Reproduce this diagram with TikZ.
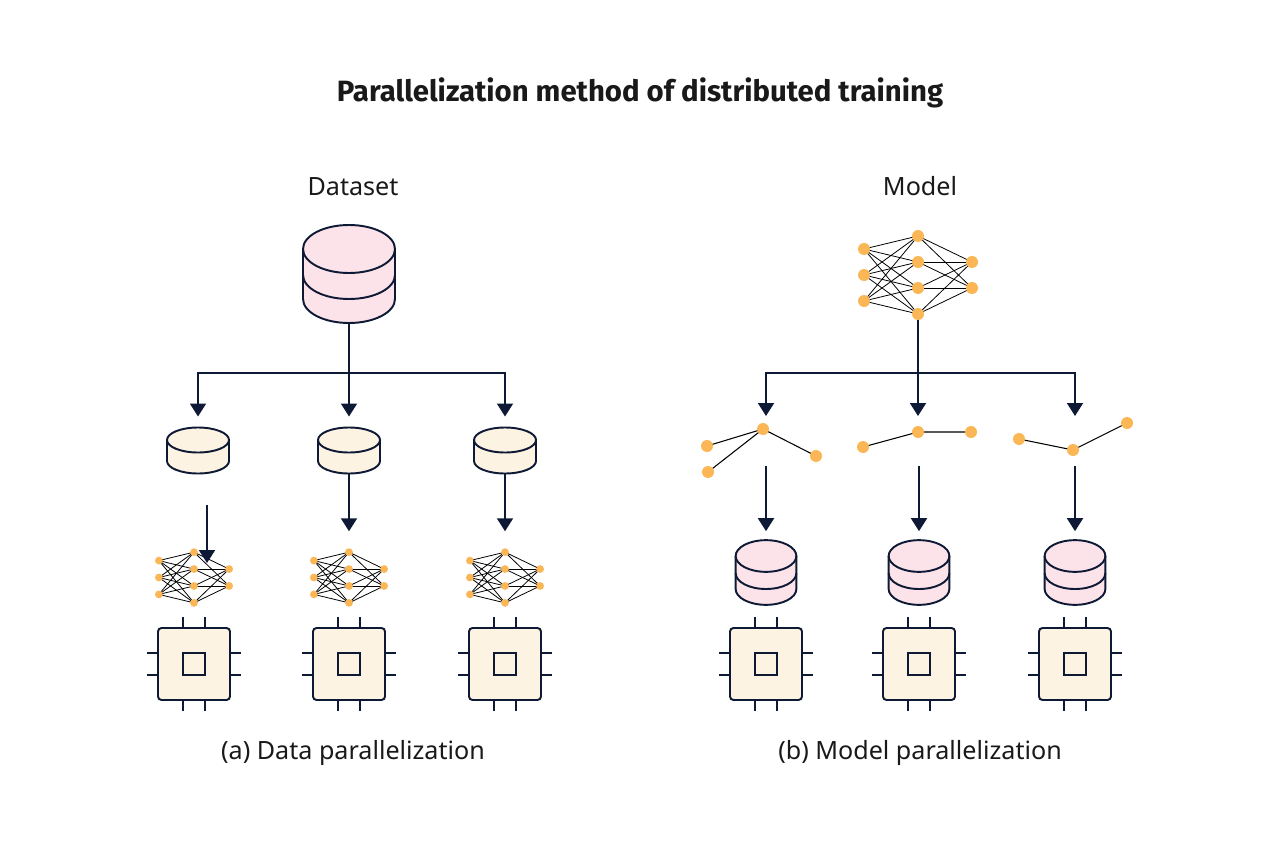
\documentclass[tikz,border=0pt]{standalone}
\usepackage{fontspec}
\setmainfont{Noto Sans}
\newfontfamily\headfont{Fira Sans}
\usetikzlibrary{arrows.meta}

\definecolor{navy}{HTML}{0E1A35}
\definecolor{dbpink}{HTML}{FCE3E9}
\definecolor{cream}{HTML}{FDF3E3}
\definecolor{nodeorange}{HTML}{FBB755}

% stacked database: name, x, y (top centre), scale, fill
\newcommand{\dbase}[5]{%
  \begin{scope}[shift={(#2,#3)},scale=#4]
    \fill[#5] (-46,0) rectangle (46,50);
    \fill[#5] (0,50) ellipse[x radius=46,y radius=24];
    \fill[#5] (0,0) ellipse[x radius=46,y radius=24];
    \draw[outline] (0,0) ellipse[x radius=46,y radius=24];
    \draw[outline] (-46,0) -- (-46,50) arc[start angle=180,end angle=0,x radius=46,y radius=24] -- (46,0);
    \draw[outline] (-46,26) arc[start angle=180,end angle=0,x radius=46,y radius=24];
    \coordinate (#1-top) at (0,-24);
    \coordinate (#1-bot) at (0,74);
  \end{scope}}

% data shard: name, x, y (top centre)
\newcommand{\shard}[3]{%
  \begin{scope}[shift={(#2,#3)}]
    \fill[cream] (-31,0) rectangle (31,21);
    \fill[cream] (0,21) ellipse[x radius=31,y radius=12.5];
    \fill[cream] (0,0) ellipse[x radius=31,y radius=12.5];
    \draw[outline] (0,0) ellipse[x radius=31,y radius=12.5];
    \draw[outline] (-31,0) -- (-31,21) arc[start angle=180,end angle=0,x radius=31,y radius=12.5] -- (31,0);
    \coordinate (#1-top) at (0,-12.5);
    \coordinate (#1-bot) at (0,33.5);
  \end{scope}}

% processor: name, x, y
\newcommand{\chip}[3]{%
  \begin{scope}[shift={(#2,#3)}]
    \draw[outline,fill=cream,rounded corners=2pt] (-36,-36) rectangle (36,36);
    \draw[outline] (-11,-11) rectangle (11,11);
    \foreach \p in {-11,11}
      \draw[outline] (\p,-36) -- (\p,-47) (\p,36) -- (\p,47) (-36,\p) -- (-47,\p) (36,\p) -- (47,\p);
    \coordinate (#1-top) at (0,-47);
  \end{scope}}

% network 3-4-2: name, x, y, scale
\newcommand{\nnet}[4]{%
  \begin{scope}[shift={(#2,#3)},scale=#4]
    \foreach \k/\yy in {1/-26,2/0,3/26} \coordinate (#1-i\k) at (-54,\yy);
    \foreach \k/\yy in {1/-39,2/-13,3/13,4/39} \coordinate (#1-h\k) at (0,\yy);
    \foreach \k/\yy in {1/-13,2/13} \coordinate (#1-o\k) at (54,\yy);
    \foreach \i in {1,2,3} \foreach \h in {1,...,4} \draw[wire] (#1-i\i) -- (#1-h\h);
    \foreach \h in {1,...,4} \foreach \o in {1,2} \draw[wire] (#1-h\h) -- (#1-o\o);
    \foreach \n in {i1,i2,i3,h1,h2,h3,h4,o1,o2} \fill[nodeorange] (#1-\n) circle[radius=6];
    \coordinate (#1-top) at (0,-45);
    \coordinate (#1-bot) at (0,45);
  \end{scope}}

\begin{document}
\begin{tikzpicture}[x=0.02cm,y=-0.02cm,
    outline/.style={draw=navy,line width=1.1pt},
    wire/.style={line width=0.45pt,black},
    flow/.style={navy,line width=1.1pt},
    arr/.style={flow,-{Triangle[width=0.32cm,length=0.26cm]}},
    bit/.style={nodeorange},
    heading/.style={font=\headfont\bfseries\fontsize{16.7}{19}\selectfont,text=black!90,anchor=base},
    caption/.style={font=\fontsize{14.3}{17}\selectfont,text=black!90,anchor=base}]
    \useasboundingbox[fill=white] (0,0) rectangle (1280,858);

    \node[heading] (title) at (640,102) {Parallelization method of distributed training};
    \node[caption] (dlab) at (353,195) {Dataset};
    \node[caption] (mlab) at (920,195) {Model};
    \node[caption] (acap) at (353,759) {(a) Data parallelization};
    \node[caption] (bcap) at (920,759) {(b) Model parallelization};

    % data parallelization
    \dbase{data}{349}{249}{1}{dbpink}
    \shard{shA}{198}{440}
    \shard{shB}{349}{440}
    \shard{shC}{505}{440}
    \nnet{netA}{194}{577.5}{0.65}
    \nnet{netB}{349}{577.5}{0.65}
    \nnet{netC}{505}{577.5}{0.65}
    \chip{cpuA}{194}{664}
    \chip{cpuB}{349}{664}
    \chip{cpuC}{505}{664}

    \draw[flow] (data-bot) -- (349,373) coordinate (lsplit);
    \draw[arr,shorten >=0.22cm] (lsplit) -| (shA-top);
    \draw[arr,shorten >=0.22cm] (lsplit) -- (shB-top);
    \draw[arr,shorten >=0.22cm] (lsplit) -| (shC-top);
    \coordinate (shA-out) at (207,505);
    \coordinate (netA-in) at (207,563);
    \draw[arr] (shA-out) -- (netA-in);
    \draw[arr,shorten >=0.34cm] (shB-bot) -- (netB-top);
    \draw[arr,shorten >=0.34cm] (shC-bot) -- (netC-top);

    % model parallelization
    \nnet{model}{918}{275}{1}
    \foreach \n/\x/\y in {a1/707/446,a2/708/472,a3/763/429,a4/816/456,
                          b1/863/447,b2/918/432,b3/971/432,
                          c1/1019/439,c2/1073/450,c3/1127/423}
      \coordinate (\n) at (\x,\y);
    \draw[wire,line width=0.6pt] (a1) -- (a3) (a2) -- (a3) (a3) -- (a4)
      (b1) -- (b2) -- (b3) (c1) -- (c2) -- (c3);
    \foreach \n in {a1,a2,a3,a4,b1,b2,b3,c1,c2,c3} \fill[bit] (\n) circle[radius=6];
    \dbase{dbA}{766}{556}{0.66}{dbpink}
    \dbase{dbB}{919}{556}{0.66}{dbpink}
    \dbase{dbC}{1075}{556}{0.66}{dbpink}
    \chip{cpuD}{766}{664}
    \chip{cpuE}{919}{664}
    \chip{cpuF}{1075}{664}

    \draw[flow] (model-bot) -- (918,373) coordinate (rsplit);
    \coordinate (subA) at (766,416);
    \coordinate (subC) at (1075,416);
    \draw[arr] (rsplit) -| (subA);
    \draw[arr] (rsplit) -- (918,416);
    \draw[arr] (rsplit) -| (subC);
    \foreach \k/\x in {A/766,B/919,C/1075}
      \coordinate (sub\k-out) at (\x,466);
    \draw[arr,shorten >=0.18cm] (subA-out) -- (dbA-top);
    \draw[arr,shorten >=0.18cm] (subB-out) -- (dbB-top);
    \draw[arr,shorten >=0.18cm] (subC-out) -- (dbC-top);
\end{tikzpicture}
\end{document}
